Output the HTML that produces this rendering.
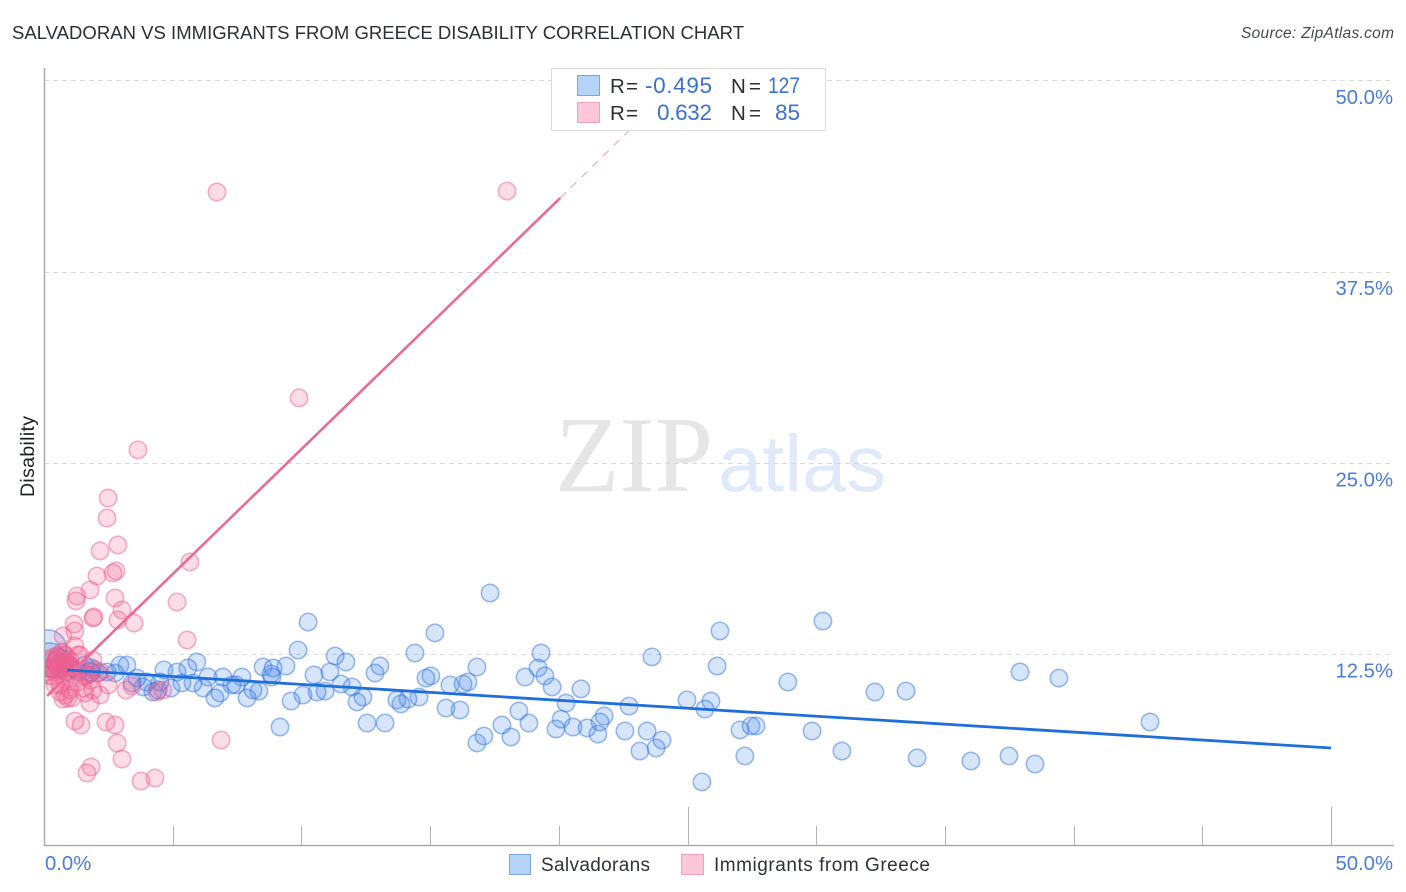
<!DOCTYPE html>
<html lang="en">
<head>
<meta charset="utf-8">
<title>Salvadoran vs Immigrants from Greece Disability Correlation Chart</title>
<style>
html,body{margin:0;padding:0;background:#fff;width:1406px;height:892px;overflow:hidden}
svg{display:block;font-family:"Liberation Sans",sans-serif}
</style>
</head>
<body>
<svg id="chart" width="1406" height="892" viewBox="0 0 1406 892" xmlns="http://www.w3.org/2000/svg">
  <defs>
    <clipPath id="plot-clip"><rect x="45" y="60" width="1349" height="785"/></clipPath>
  </defs>
  <rect x="0" y="0" width="1406" height="892" fill="#fff"/>
  <text x="12" y="39" font-size="18.5" fill="#2b2f36" textLength="732" lengthAdjust="spacing">SALVADORAN VS IMMIGRANTS FROM GREECE DISABILITY CORRELATION CHART</text>
  <text x="1394" y="38" font-size="15.5" font-style="italic" fill="#454a52" text-anchor="end" textLength="153" lengthAdjust="spacing">Source: ZipAtlas.com</text>
  <g>
    <text x="555" y="491" font-family="'Liberation Serif',serif" font-size="108" fill="#e6e6e6" textLength="158" lengthAdjust="spacingAndGlyphs">ZIP</text>
    <text x="718" y="491" font-size="80" fill="#dfe9f9" textLength="168" lengthAdjust="spacingAndGlyphs">atlas</text>
  </g>
  <g id="grid"></g>
  <g id="axes"></g>
  <text x="0" y="0" transform="translate(34 456.5) rotate(-90)" font-size="19.5" fill="#1c1f24" text-anchor="middle" textLength="81" lengthAdjust="spacing">Disability</text>
  <g id="blue-points" clip-path="url(#plot-clip)"></g>
  <g id="pink-points" clip-path="url(#plot-clip)"></g>
  <g id="trends"></g>

  <g>
    <rect x="551.5" y="68.5" width="274" height="62" fill="#fff" fill-opacity="0.92" stroke="#dcdcdc" stroke-width="1"/>
    <rect x="577.5" y="75.5" width="22" height="20" fill="#b5d3f7" stroke="#7ba7e0"/>
    <rect x="577.5" y="102.5" width="22" height="20" fill="#fcc7d8" stroke="#f0a0ba"/>
    <g font-size="20.5" fill="#2b2f36">
      <text x="610" y="93" textLength="28" lengthAdjust="spacing">R =</text>
      <text x="731" y="93" textLength="30" lengthAdjust="spacing">N =</text>
      <text x="610" y="120" textLength="28" lengthAdjust="spacing">R =</text>
      <text x="731" y="120" textLength="30" lengthAdjust="spacing">N =</text>
    </g>
    <g font-size="22.5" fill="#3a70d2" text-anchor="end">
      <text x="712" y="93" textLength="67" lengthAdjust="spacing">-0.495</text>
      <text x="800" y="93" textLength="32" lengthAdjust="spacingAndGlyphs">127</text>
      <text x="712" y="120" textLength="55" lengthAdjust="spacing">0.632</text>
      <text x="800" y="120" textLength="25" lengthAdjust="spacing">85</text>
    </g>
  </g>

  <g>
    <rect x="509.5" y="854.5" width="21" height="20" fill="#b5d3f7" stroke="#7ba7e0"/>
    <text x="541" y="871" font-size="19" fill="#2f333a" textLength="109" lengthAdjust="spacing">Salvadorans</text>
    <rect x="681.5" y="854.5" width="22" height="20" fill="#fcc7d8" stroke="#f0a0ba"/>
    <text x="714" y="871" font-size="19" fill="#2f333a" textLength="216" lengthAdjust="spacing">Immigrants from Greece</text>
  </g>
</svg>
<script>
var xTicks = [0,5,10,15,20,25,30,35,40,45,50];
var xMajorTicks = [25,50];
var xLabelTicks = [0,50];
var yTicks = [12.5,25,37.5,50];

var blueX = [17.33,30.26,26.26,10.26,15.19,9.87,14.41,19.31,23.62,11.31,11.73,13.05,16.82,19.19,26.15,5.94,3.22,2.95,4.66,5.59,5.17,8.51,9.40,8.90,10.49,11.11,12.86,15.03,14.84,37.92,39.43,18.69,19.46,28.90,32.28,33.49,19.74,20.86,24.98,25.91,25.68,22.73,20.28,18.45,16.16,15.62,15.77,16.28,16.47,14.57,14.14,13.87,13.71,12.39,12.16,11.97,11.54,10.92,10.61,10.06,9.60,8.35,8.12,7.89,7.69,7.46,7.30,6.95,6.84,6.64,6.37,6.18,5.79,5.36,4.93,4.51,4.23,4.43,4.00,3.85,3.61,3.42,2.76,2.45,2.10,1.79,8.86,8.82,21.76,21.60,20.09,19.89,20.55,21.10,21.52,22.57,23.43,24.01,23.78,23.15,27.04,27.47,27.66,29.84,27.23,31.00,33.92,36.01,37.49,38.50,42.97,25.56,16.82,17.09,18.14,17.79,18.84,13.25,12.55,9.17,1.59,1.09,1.32,0.82,0.54,0.85,1.86];
var blueY = [16.49,14.66,14.01,14.59,13.88,12.76,12.57,12.57,12.31,12.37,11.98,11.72,11.65,11.59,11.72,11.98,11.78,11.78,11.46,11.59,11.33,11.65,11.72,11.59,11.13,11.33,11.26,11.07,10.93,11.33,10.93,11.00,11.07,10.67,10.02,10.08,10.35,10.22,9.50,9.43,8.91,9.10,9.30,8.78,8.84,8.97,10.48,10.54,10.67,9.69,9.56,9.24,9.50,9.69,9.37,10.35,10.54,10.08,10.02,9.82,9.43,10.08,10.15,9.63,11.00,10.48,10.48,11.00,9.95,9.63,11.00,10.28,10.61,10.61,10.28,10.67,10.02,10.15,10.67,10.35,10.93,10.61,11.26,11.33,11.26,11.33,11.00,11.20,8.45,8.06,8.25,7.60,7.73,7.67,7.27,7.47,7.47,6.88,6.36,6.16,7.54,7.80,7.80,7.47,5.84,6.16,5.71,5.51,5.84,5.31,8.06,4.14,6.69,7.14,7.08,7.86,7.99,7.99,7.99,7.73,11.78,11.59,11.33,11.91,11.59,11.33,11.59];

var blueLargeX = [0.16,0.23,0.62,1.79];
var blueLargeY = [12.90,12.11,11.98,11.33];
var blueLargeWeight = [4.3,3.8,2.2,1.3];

var pinkX = [6.72,17.99,9.91,3.65,2.49,2.45,2.87,2.18,2.80,2.68,2.06,5.67,1.79,1.28,1.24,2.76,5.17,3.03,1.94,1.90,2.87,3.50,1.17,1.20,0.74,5.56,1.20,1.40,1.90,1.20,1.44,2.41,2.76,2.84,3.03,1.83,1.67,3.77,4.31,6.88,2.18,1.79,3.19,3.42,1.59,0.74,0.93,0.82,1.09,1.90,1.52,4.39,4.62,1.01,0.62,0.82,0.23,0.43,0.70,1.01,0.54,0.82,1.32,1.79,1.59,1.09,1.32,0.43,0.62,0.31,0.23,0.16,0.47,0.62,0.78,0.93,1.20,1.48,1.71,1.98,1.01,0.70,0.51,2.18,2.49];
var pinkY = [42.70,42.76,29.24,25.84,22.70,21.39,19.63,19.24,17.93,17.80,17.60,18.52,16.69,16.29,15.97,16.16,15.90,15.38,14.92,14.86,14.73,14.53,14.46,14.01,13.68,13.42,13.03,12.44,12.11,8.12,7.86,8.06,7.86,6.69,5.64,5.12,4.73,4.20,4.40,6.88,9.82,9.30,10.15,10.41,9.95,9.56,9.63,9.82,9.63,10.15,10.28,10.02,10.15,10.15,10.48,10.80,11.13,11.33,11.46,11.78,12.11,12.44,12.44,10.80,11.07,10.93,10.67,10.48,10.02,12.11,11.59,11.33,11.78,11.91,11.98,11.59,11.46,11.33,11.13,11.46,12.11,12.63,12.37,11.33,10.48];

var pinkLargeX = [0.54,0.43,0.70,0.90,0.30];
var pinkLargeY = [11.78,11.90,12.10,11.60,11.30];
var pinkLargeWeight = [2.2,3.0,2.5,2.0,2.0];

var blueTrendX = [0.9,50];
var blueTrendY = [11.46,6.36];
var pinkTrendX = [0.12,20.05];
var pinkTrendY = [9.76,42.3];
var pinkDashX = [20.05,24.24];
var pinkDashY = [42.3,49.2];

var SVGNS = 'http://www.w3.org/2000/svg';
function sx(v){ return 44 + v * 25.74; }
function sy(v){ return 845.3 - v * 15.3; }
function radius(w){ return 8.7 * Math.sqrt(w); }
function make(tag, parent){
  var el = document.createElementNS(SVGNS, tag);
  parent.appendChild(el);
  return el;
}
function setAll(el, props){
  for (var k in props) el.setAttribute(k, props[k]);
}

var grid = document.getElementById('grid');
var axes = document.getElementById('axes');
yTicks.forEach(function(t){
  var line = make('line', grid);
  setAll(line, {x1:44, x2:1394, y1:Math.round(sy(t))+0.5, y2:Math.round(sy(t))+0.5, stroke:'#dadada', 'stroke-width':1, 'stroke-dasharray':'5 4'});
  
  
  var label = make('text', axes);
  setAll(label, {x:1393, y:sy(t)+23.5, 'font-size':20.3, fill:'#4a7dd8', 'text-anchor':'end'});
  label.textContent = t.toFixed(1) + '%';
  
  
});

var yAxis = make('line', axes);
setAll(yAxis, {x1:44.5, x2:44.5, y1:68, y2:846, stroke:'#aaaaaa', 'stroke-width':1.5});


var xAxis = make('line', axes);
setAll(xAxis, {x1:44, x2:1394, y1:845.5, y2:845.5, stroke:'#aaaaaa', 'stroke-width':1.5});



xTicks.forEach(function(t){
  if (t === 0) return;
  var tick = make('line', axes);
  var top = xMajorTicks.indexOf(t) >= 0 ? 807 : 826;
  setAll(tick, {x1:Math.round(sx(t))+0.5, x2:Math.round(sx(t))+0.5, y1:top, y2:845, stroke:'#b4b4b4', 'stroke-width':1});
  
  
});
xLabelTicks.forEach(function(t){
  var label = make('text', axes);
  var last = t === xLabelTicks[xLabelTicks.length - 1];
  setAll(label, {x:last ? 1393 : sx(t)+1, y:870, 'font-size':20.3, fill:'#4a7dd8', 'text-anchor':last ? 'end' : 'start'});
  label.textContent = t.toFixed(1) + '%';
  
  
});

var blueStyle = {fill:'rgba(70,135,230,0.22)', stroke:'rgba(50,115,220,0.48)', 'stroke-width':1.6};
var pinkStyle = {fill:'rgba(240,95,145,0.22)', stroke:'rgba(235,95,140,0.48)', 'stroke-width':1.6};
var blueGroup = document.getElementById('blue-points');
var pinkGroup = document.getElementById('pink-points');

blueLargeX.forEach(function(x, i){
  var c = make('circle', blueGroup);
  setAll(c, blueStyle);
  setAll(c, {cx:sx(x), cy:sy(blueLargeY[i]), r:radius(blueLargeWeight[i])});
  
  
});
blueX.forEach(function(x, i){
  var c = make('circle', blueGroup);
  setAll(c, blueStyle);
  setAll(c, {cx:sx(x), cy:sy(blueY[i]), r:radius(1)});
  
  
});
pinkLargeX.forEach(function(x, i){
  var c = make('circle', pinkGroup);
  setAll(c, pinkStyle);
  setAll(c, {cx:sx(x), cy:sy(pinkLargeY[i]), r:radius(pinkLargeWeight[i])});
  
  
});
pinkX.forEach(function(x, i){
  var c = make('circle', pinkGroup);
  setAll(c, pinkStyle);
  setAll(c, {cx:sx(x), cy:sy(pinkY[i]), r:radius(1)});
  
  
});

var trends = document.getElementById('trends');
var pinkDash = make('line', trends);
setAll(pinkDash, {x1:sx(pinkDashX[0]), y1:sy(pinkDashY[0]), x2:sx(pinkDashX[1]), y2:sy(pinkDashY[1]), stroke:'#e8a0ba', 'stroke-width':1, 'stroke-dasharray':'8 7'});


var pinkLine = make('line', trends);
setAll(pinkLine, {x1:sx(pinkTrendX[0]), y1:sy(pinkTrendY[0]), x2:sx(pinkTrendX[1]), y2:sy(pinkTrendY[1]), stroke:'#ea6a98', 'stroke-width':2.6});


var blueLine = make('line', trends);
setAll(blueLine, {x1:sx(blueTrendX[0]), y1:sy(blueTrendY[0]), x2:sx(blueTrendX[1]), y2:sy(blueTrendY[1]), stroke:'#1f6fd8', 'stroke-width':2.8});


</script>
</body>
</html>
